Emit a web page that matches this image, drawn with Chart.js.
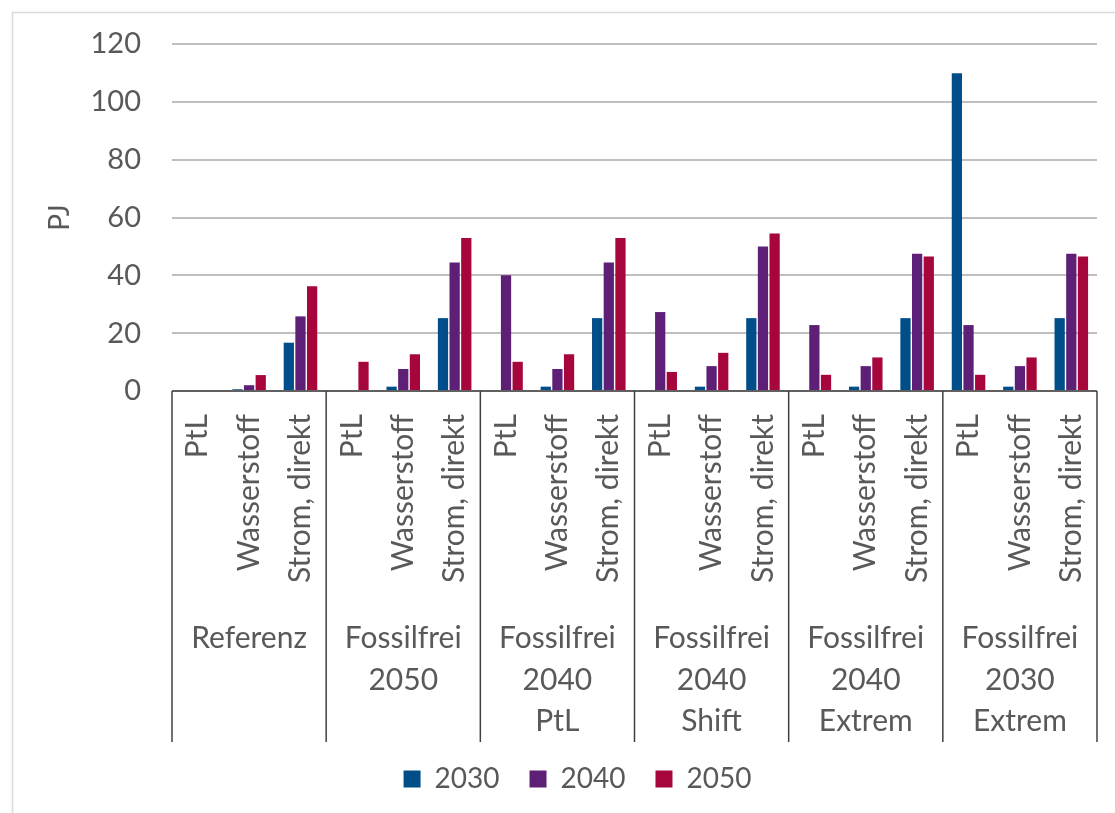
<!DOCTYPE html>
<html>
<head>
<meta charset="utf-8">
<script src="https://cdn.jsdelivr.net/npm/chart.js@4"></script>
<style>
  html, body { margin: 0; padding: 0; background: #fff; }
  #wrap { width: 1115px; height: 813px; position: relative; }
</style>
</head>
<body>
<div id="wrap"><canvas id="chart"></canvas></div>
<script>
// data
const subLabels = ['PtL', 'Wasserstoff', 'Strom, direkt'];
const groupLabels = [
    ['Referenz'],
    ['Fossilfrei', '2050'],
    ['Fossilfrei', '2040', 'PtL'],
    ['Fossilfrei', '2040', 'Shift'],
    ['Fossilfrei', '2040', 'Extrem'],
    ['Fossilfrei', '2030', 'Extrem']
];
const seriesNames = ['2030', '2040', '2050'];
const values2030 = [0, 0.6, 16.7, 0, 1.5, 25.2, 0, 1.5, 25.2, 0, 1.5, 25.2, 0, 1.5, 25.2, 109.9, 1.5, 25.2];
const values2040 = [0, 2.0, 25.8, 0, 7.6, 44.4, 40.0, 7.6, 44.4, 27.3, 8.6, 50.0, 22.8, 8.6, 47.5, 22.8, 8.6, 47.5];
const values2050 = [0, 5.5, 36.2, 10.1, 12.7, 52.9, 10.1, 12.7, 52.9, 6.6, 13.2, 54.5, 5.6, 11.6, 46.5, 5.6, 11.6, 46.5];
const yTicks = [0, 20, 40, 60, 80, 100, 120];

const colors = ['#004E89', '#5E1F77', '#A6063B'];
const textColor = '#595959';
const fontFamily = 'Lato, "Open Sans", sans-serif';

// 18 categories: subcategory repeated per group
const labels = [];
groupLabels.forEach(() => subLabels.forEach(s => labels.push(s)));

// frame, group separators, legend nudge
const framePlugin = {
    id: 'frame',
    afterLayout(chart) {
        // legend sits a bit right of centre in the original
        chart.legend.left += 29;
        chart.legend.right += 29;
    },
    beforeDraw(chart) {
        const ctx = chart.ctx;
        ctx.save();
        ctx.strokeStyle = '#d9d9d9';
        ctx.lineWidth = 1.5;
        ctx.strokeRect(12.5, 12.5, 1300, 1000);
        ctx.restore();
    },
    afterDraw(chart) {
        const ctx = chart.ctx;
        const x = chart.scales.x;
        const area = chart.chartArea;
        const half = (x.getPixelForValue(1) - x.getPixelForValue(0)) / 2;
        ctx.save();
        ctx.strokeStyle = '#404040';
        ctx.lineWidth = 1.5;
        for (let g = 0; g <= groupLabels.length; g++) {
            const px = x.getPixelForValue(g * subLabels.length) - half;
            ctx.beginPath();
            ctx.moveTo(px, area.bottom);
            ctx.lineTo(px, 742);
            ctx.stroke();
        }
        ctx.beginPath();
        ctx.moveTo(area.left, area.bottom);
        ctx.lineTo(area.right, area.bottom);
        ctx.stroke();
        ctx.restore();
    }
};

new Chart(document.getElementById('chart'), {
    type: 'bar',
    data: {
        labels: labels,
        datasets: [values2030, values2040, values2050].map((vals, i) => ({
            label: seriesNames[i],
            data: vals,
            backgroundColor: colors[i],
            borderWidth: 0,
            barPercentage: 0.88,
            categoryPercentage: 0.68
        }))
    },
    options: {
        responsive: true,
        maintainAspectRatio: false,
        animation: false,
        layout: { padding: { top: 44, right: 18, bottom: 10, left: 0 } },
        plugins: {
            legend: {
                position: 'bottom',
                labels: {
                    color: textColor,
                    font: { family: fontFamily, size: 28 },
                    boxWidth: 17,
                    boxHeight: 17,
                    padding: 30
                }
            },
            tooltip: { enabled: false }
        },
        scales: {
            x: {
                grid: { display: false },
                border: { display: false },
                ticks: {
                    color: textColor,
                    font: { family: fontFamily, size: 30 },
                    minRotation: 90,
                    maxRotation: 90,
                    autoSkip: false,
                    padding: 15
                },
                afterFit(scale) {
                    scale.height = 209;
                    scale.paddingLeft = 0;
                    scale.paddingRight = 0;
                }
            },
            x2: {
                type: 'category',
                labels: groupLabels,
                offset: true,
                position: 'bottom',
                grid: { display: false },
                border: { display: false },
                ticks: {
                    color: textColor,
                    font: { family: fontFamily, size: 30, lineHeight: 1.383 },
                    autoSkip: false,
                    maxRotation: 0,
                    padding: 10
                },
                afterFit(scale) {
                    scale.height = 135;
                    scale.paddingLeft = 0;
                    scale.paddingRight = 0;
                }
            },
            y: {
                min: 0,
                max: 120,
                afterBuildTicks(scale) { scale.ticks = yTicks.map(v => ({ value: v })); },
                grid: { color: '#bfbfbf', lineWidth: 2, drawTicks: false },
                border: { display: false },
                ticks: {
                    color: textColor,
                    font: { family: fontFamily, size: 29 },
                    padding: 31
                },
                title: {
                    display: true,
                    text: 'PJ',
                    color: textColor,
                    font: { family: fontFamily, size: 28 },
                    padding: { top: 43, bottom: 0 }
                },
                afterFit(scale) {
                    scale.width = 172;
                    scale.paddingTop = 0;
                    scale.paddingBottom = 0;
                }
            }
        }
    },
    plugins: [framePlugin]
});
</script>
</body>
</html>
